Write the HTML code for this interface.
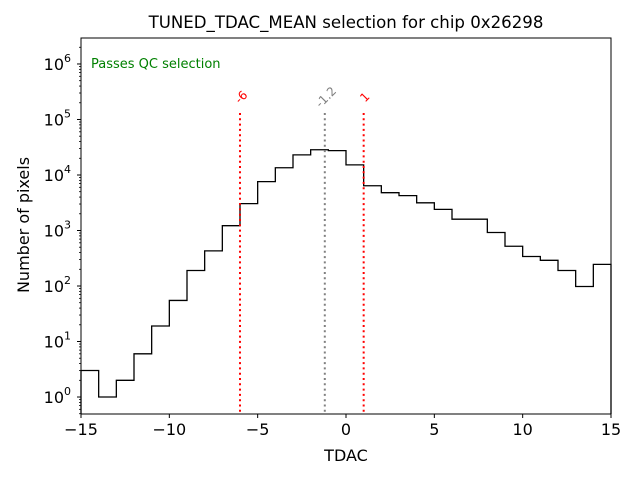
<!DOCTYPE html>
<html><head><meta charset="utf-8"><style>
body{margin:0;background:#fff}
svg text{font-family:"DejaVu Sans","Liberation Sans",sans-serif}
</style></head><body>
<svg id="chart" width="640" height="480" xmlns="http://www.w3.org/2000/svg">
<rect width="640" height="480" fill="#fff"/>
<text x="346" y="28" text-anchor="middle" font-size="16.6">TUNED_TDAC_MEAN selection for chip 0x26298</text>
<g id="plot"></g>
<text x="346" y="461" text-anchor="middle" font-size="16">TDAC</text>
<text transform="translate(29,225) rotate(-90)" text-anchor="middle" font-size="16">Number of pixels</text>
<text x="91" y="68" font-size="13" fill="green">Passes QC selection</text>
</svg>
<script>
const binEdges=[-15,-14,-13,-12,-11,-10,-9,-8,-7,-6,-5,-4,-3,-2,-1,0,1,2,3,4,5,6,7,8,9,10,11,12,13,14,15];
const counts=[3,1,2,6,19,55,190,430,1220,3050,7600,13500,23000,28500,27500,15200,6400,4800,4250,3150,2400,1600,1600,920,520,340,290,190,98,245];
const cutLines=[-6,-1.2,1];
const cutLabels=["-6","-1.2","1"];
const cutColors=["red","gray","red"];
const xTicks=[-15,-10,-5,0,5,10,15];
const xTickLabels=["−15","−10","−5","0","5","10","15"];
const yTicks=[0,1,2,3,4,5,6];

const L=81,R=611,T=38,B=414;
const xmin=-15,xmax=15,lmin=-0.306,lmax=6.468;
const X=v=>L+(v-xmin)/(xmax-xmin)*(R-L);
const Y=v=>B-(Math.log10(v)-lmin)/(lmax-lmin)*(B-T);
const YL=l=>B-(l-lmin)/(lmax-lmin)*(B-T);
const NS="http://www.w3.org/2000/svg";
const g=document.getElementById('plot');
function mk(t,a){const e=document.createElementNS(NS,t);for(const k in a)e.setAttribute(k,a[k]);g.appendChild(e);return e;}

let d="M"+X(binEdges[0])+","+B;
for(let i=0;i<counts.length;i++){d+=" L"+X(binEdges[i])+","+Y(counts[i])+" L"+X(binEdges[i+1])+","+Y(counts[i]);}
d+=" L"+X(binEdges[binEdges.length-1])+","+B;
const h=mk('path',{d:d,fill:'none',stroke:'#000','stroke-width':1.3});



for(let i=0;i<cutLines.length;i++){
 const x=X(cutLines[i]);
 const ln=mk('line',{x1:x,x2:x,y1:113,y2:B,stroke:cutColors[i],'stroke-width':2,'stroke-dasharray':'2,3.3'});
 
 
 const t=mk('text',{transform:'translate('+(x+4)+',100) rotate(-45)','text-anchor':'middle','font-size':12,fill:cutColors[i]});
 t.textContent=cutLabels[i];
 
 
}

const fr=mk('rect',{x:L,y:T,width:R-L,height:B-T,fill:'none',stroke:'#000','stroke-width':1});



for(let i=0;i<xTicks.length;i++){
 const x=X(xTicks[i]);
 mk('line',{x1:x,x2:x,y1:B,y2:B+4,stroke:'#000'});
 const t=mk('text',{x:x,y:B+21,'text-anchor':'middle','font-size':16});
 t.textContent=xTickLabels[i];
 
 
}
for(const p of yTicks){
 const y=YL(p);
 mk('line',{x1:L-4,x2:L,y1:y,y2:y,stroke:'#000'});
 const t=mk('text',{x:L-10,y:y+6,'text-anchor':'end','font-size':16});
 t.innerHTML='10<tspan dy="-8" font-size="11">'+p+'</tspan>';
 
 
}
for(let p=-1;p<=6;p++){for(let m=2;m<=9;m++){const l=p+Math.log10(m);if(l<lmin||l>lmax)continue;const y=YL(l);mk('line',{x1:L-2,x2:L,y1:y,y2:y,stroke:'#000','stroke-width':0.8});}}
</script>
</body></html>
